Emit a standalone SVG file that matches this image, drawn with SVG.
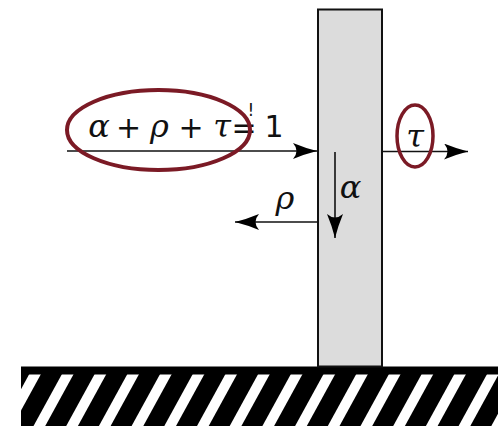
<svg xmlns="http://www.w3.org/2000/svg" width="498" height="426" viewBox="0 0 498 426">
<style>
.g{font-family:"DejaVu Serif","Liberation Serif",serif;font-style:italic;font-size:32px;fill:#111;text-anchor:middle}
.s{font-family:"DejaVu Sans","Liberation Sans",sans-serif;font-size:30px;fill:#111;text-anchor:middle}
.ar{stroke:#111;stroke-width:1.6;fill:none;marker-end:url(#ah)}
.ring{fill:none;stroke:#7b1a25;stroke-width:4}
</style>
<defs>
<marker id="ah" markerUnits="userSpaceOnUse" viewBox="0 0 24 16" markerWidth="24" markerHeight="16" refX="24" refY="8" orient="auto">
<path d="M24,8 Q12,5 0,0 Q7,8 0,16 Q12,11 24,8 Z" fill="#000"/>
</marker>
<clipPath id="gc"><rect x="21" y="374" width="477" height="52"/></clipPath>
</defs>
<g id="ground">
<rect x="21" y="366.5" width="477" height="8" fill="#000"/>
<g clip-path="url(#gc)" fill="#000">
<polygon points="8.3,374 29.3,374 0.8,426 -20.2,426"/>
<polygon points="41,374 62,374 33.5,426 12.5,426"/>
<polygon points="73.7,374 94.7,374 66.2,426 45.2,426"/>
<polygon points="106.4,374 127.4,374 98.9,426 77.9,426"/>
<polygon points="139.1,374 160.1,374 131.6,426 110.6,426"/>
<polygon points="171.8,374 192.8,374 164.3,426 143.3,426"/>
<polygon points="204.5,374 225.5,374 197,426 176,426"/>
<polygon points="237.2,374 258.2,374 229.7,426 208.7,426"/>
<polygon points="269.9,374 290.9,374 262.4,426 241.4,426"/>
<polygon points="302.6,374 323.6,374 295.1,426 274.1,426"/>
<polygon points="335.3,374 356.3,374 327.8,426 306.8,426"/>
<polygon points="368,374 389,374 360.5,426 339.5,426"/>
<polygon points="400.7,374 421.7,374 393.2,426 372.2,426"/>
<polygon points="433.4,374 454.4,374 425.9,426 404.9,426"/>
<polygon points="466.1,374 487.1,374 458.6,426 437.6,426"/>
<polygon points="498.8,374 519.8,374 491.3,426 470.3,426"/>
</g>
</g>
<g id="pillar">
<rect x="318" y="9.5" width="64" height="357" fill="#dcdcdc" stroke="#111" stroke-width="2"/>
</g>
<g id="connectors">
<line class="ar" x1="67" y1="151" x2="317" y2="151"/>
<line class="ar" x1="382" y1="151.5" x2="468" y2="151.5"/>
<line class="ar" x1="318" y1="222" x2="235" y2="222"/>
<line class="ar" x1="335" y1="152" x2="335" y2="238"/>
</g>
<g id="equation">
<text class="g" x="99" y="137">α</text>
<text class="s" x="128.5" y="138">+</text>
<text class="g" x="159.5" y="137">ρ</text>
<text class="s" x="191" y="138">+</text>
<text class="g" x="222" y="137">τ</text>
<text class="s" x="244" y="138">=</text>
<text class="s" x="251" y="116" style="font-size:17px">!</text>
<text class="s" x="274" y="137">1</text>
<ellipse class="ring" cx="158.5" cy="130" rx="91.5" ry="40"/>
</g>
<g id="label-tau">
<text class="g" x="415" y="147">τ</text>
<ellipse class="ring" cx="415" cy="136" rx="18" ry="31" style="stroke-width:3.5"/>
</g>
<g id="label-rho">
<text class="g" x="285" y="209">ρ</text>
</g>
<g id="label-alpha">
<text class="g" x="350.5" y="198">α</text>
</g>
</svg>
